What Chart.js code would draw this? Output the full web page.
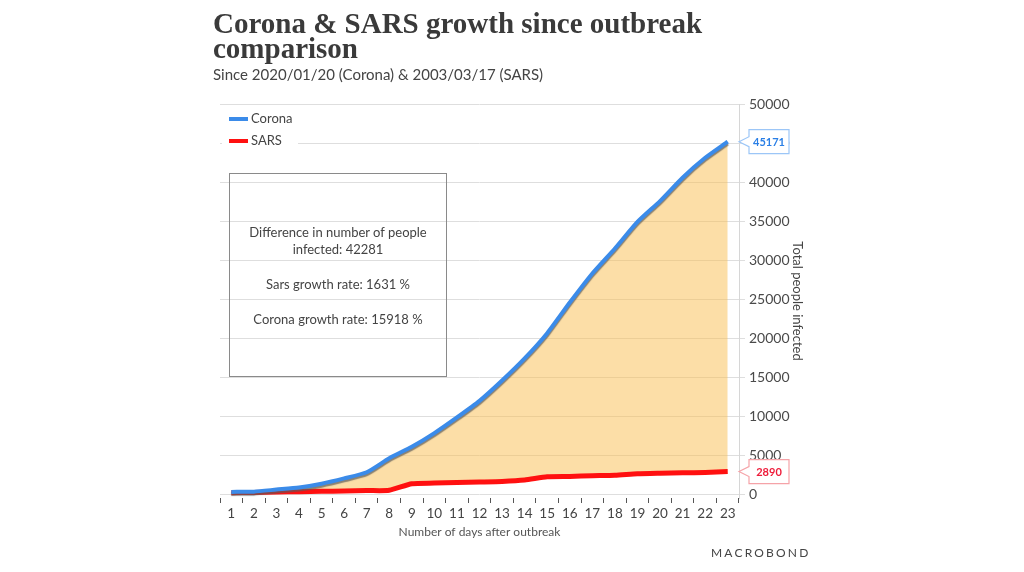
<!DOCTYPE html>
<html>
<head>
<meta charset="utf-8">
<script src="https://cdn.jsdelivr.net/npm/chart.js@4/dist/chart.umd.min.js"></script>
<style>
  html, body { margin: 0; padding: 0; background: #fff; }
  #wrap { position: relative; width: 1024px; height: 572px; overflow: hidden; }
  #c { position: absolute; left: 0; top: 0; }
  .title { position: absolute; left: 213px; top: 11px; font: bold 29px "Liberation Serif", serif; line-height: 25px; color: #3a3a3a; white-space: nowrap; }
  .subtitle { position: absolute; left: 213px; top: 65px; font: 15px Lato, sans-serif; color: #444; white-space: nowrap; }
  .box { position: absolute; left: 229px; top: 173px; width: 218px; height: 204px; border: 1.5px solid #8a8a8a; box-sizing: border-box; background: transparent;
         font: 13px Lato, sans-serif; color: #444; text-align: center; }
  .box div { position: absolute; left: 0; right: 0; }
  .logo { position: absolute; left: 711px; top: 545px; font: 12px Lato, sans-serif; letter-spacing: 2.2px; color: #444; }
</style>
</head>
<body>
<div id="wrap">
  <canvas id="c" width="1024" height="572"></canvas>
  <div class="title">Corona &amp; SARS growth since outbreak<br>comparison</div>
  <div class="subtitle">Since 2020/01/20 (Corona) &amp; 2003/03/17 (SARS)</div>
  <div class="box">
    <div style="top:50px">Difference in number of people</div>
    <div style="top:67px">infected: 42281</div>
    <div style="top:102px">Sars growth rate: 1631 %</div>
    <div style="top:137px">Corona growth rate: 15918 %</div>
  </div>
  <div class="logo">MACROBOND</div>
</div>
<script>
const days = ['1','2','3','4','5','6','7','8','9','10','11','12','13','14','15','16','17','18','19','20','21','22','23'];
const corona = [282, 314, 579, 843, 1337, 2014, 2798, 4593, 6065, 7818, 9826, 11953, 14557, 17391, 20630, 24554, 28276, 31481, 34886, 37558, 40554, 43103, 45171];
const sars = [167, 219, 264, 306, 350, 386, 456, 487, 1323, 1408, 1485, 1550, 1622, 1804, 2223, 2270, 2353, 2416, 2601, 2671, 2722, 2781, 2890];
const yTickValues = [0, 5000, 10000, 15000, 20000, 25000, 30000, 35000, 40000, 45000, 50000];
const seriesNames = ['Corona', 'SARS'];
const xTitle = 'Number of days after outbreak';
const yTitle = 'Total people infected';

const BLUE = '#3b8be9';
const RED = '#ff1010';

const shadowPlugin = {
  id: 'shadow',
  beforeDatasetDraw(chart, args) {
    if (args.index === 0) {
      const ctx = chart.ctx;
      ctx.save();
      ctx.shadowColor = 'rgba(90,90,90,0.7)';
      ctx.shadowOffsetY = 2;
      ctx.shadowOffsetX = 0;
      ctx.shadowBlur = 1;
    }
  },
  afterDatasetDraw(chart, args) {
    if (args.index === 0) chart.ctx.restore();
  }
};

const legendPlugin = {
  id: 'customLegend',
  afterDraw(chart) {
    const ctx = chart.ctx;
    ctx.save();
    ctx.fillStyle = '#fff';
    ctx.fillRect(222, 108, 76, 42);
    chart.data.datasets.forEach((ds, i) => {
      const y = 119 + i * 22;
      ctx.strokeStyle = ds.borderColor;
      ctx.lineWidth = 4;
      ctx.beginPath();
      ctx.moveTo(229, y);
      ctx.lineTo(248, y);
      ctx.stroke();
      ctx.fillStyle = '#444';
      ctx.font = '13px Lato, sans-serif';
      ctx.textBaseline = 'middle';
      ctx.textAlign = 'left';
      ctx.fillText(ds.label, 251, y);
    });
    ctx.restore();
  }
};

const calloutPlugin = {
  id: 'callout',
  afterDraw(chart) {
    const ctx = chart.ctx;
    const ys = chart.scales.y;
    const x0 = chart.chartArea.right;
    const styles = [
      { stroke: '#9cc6f7', text: '#2a7fe6' },
      { stroke: '#f5a3a8', text: '#ee1c3a' }
    ];
    chart.data.datasets.forEach((ds, i) => {
      const v = ds.data[ds.data.length - 1];
      const y = ys.getPixelForValue(v);
      const st = styles[i];
      ctx.save();
      ctx.beginPath();
      ctx.moveTo(x0, y);
      ctx.lineTo(x0 + 10, y - 5);
      ctx.lineTo(x0 + 10, y - 12);
      ctx.lineTo(x0 + 50, y - 12);
      ctx.lineTo(x0 + 50, y + 12);
      ctx.lineTo(x0 + 10, y + 12);
      ctx.lineTo(x0 + 10, y + 5);
      ctx.closePath();
      ctx.fillStyle = '#fff';
      ctx.fill();
      ctx.strokeStyle = st.stroke;
      ctx.lineWidth = 1.2;
      ctx.stroke();
      ctx.fillStyle = st.text;
      ctx.font = 'bold 11px Lato, sans-serif';
      ctx.textAlign = 'center';
      ctx.textBaseline = 'middle';
      ctx.fillText(String(v), x0 + 30, y + 0.5);
      ctx.restore();
    });
  }
};

new Chart(document.getElementById('c'), {
  type: 'line',
  data: {
    labels: days,
    datasets: [
      {
        label: seriesNames[0],
        data: corona,
        borderColor: BLUE,
        borderWidth: 4,
        pointRadius: 0,
        tension: 0.2,
        fill: { target: '+1' },
        backgroundColor: 'rgba(250,190,80,0.5)'
      },
      {
        label: seriesNames[1],
        data: sars,
        borderColor: RED,
        borderWidth: 5,
        pointRadius: 0,
        tension: 0.2,
        fill: false,
        backgroundColor: RED
      }
    ]
  },
  options: {
    responsive: false,
    animation: false,
    layout: { padding: { left: 220, top: 104, right: 215, bottom: 29 } },
    plugins: {
      legend: { display: false },
      tooltip: { enabled: false },
      filler: { drawTime: 'beforeDatasetsDraw' }
    },
    scales: {
      x: {
        offset: true,
        grid: { display: true, offset: true, drawOnChartArea: false, drawTicks: true, tickLength: 5, color: '#555', lineWidth: 1 },
        border: { display: false },
        ticks: { color: '#444', font: { family: 'Lato', size: 13.5 }, padding: 3, maxRotation: 0, autoSkip: false },
        title: { display: true, text: xTitle, color: '#555', font: { family: 'Lato', size: 12 }, padding: { top: 2, bottom: 4 } },
        afterFit(s) { s.height = 45; }
      },
      y: {
        position: 'right',
        min: -500,
        max: 50000,
        ticks: { color: '#4a4a4a', font: { family: 'Lato', size: 14 }, padding: 4, callback: v => String(v) },
        afterBuildTicks(s) { s.ticks = yTickValues.map(v => ({ value: v })); },
        grid: { color: '#dedede', lineWidth: 1, tickLength: 6, drawTicks: true },
        border: { display: true, color: '#d6d6d6' },
        title: { display: true, text: yTitle, color: '#444', font: { family: 'Lato', size: 13 }, padding: { top: 4, bottom: 4 } },
        afterFit(s) { s.width = 70; }
      }
    }
  },
  plugins: [shadowPlugin, legendPlugin, calloutPlugin]
});
</script>
</body>
</html>
